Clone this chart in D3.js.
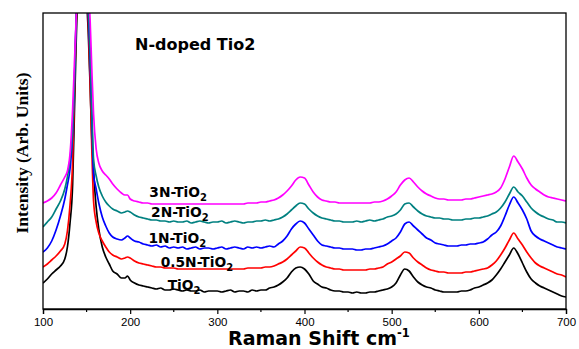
<!DOCTYPE html>
<html>
<head>
<meta charset="utf-8">
<script src="https://cdn.jsdelivr.net/npm/d3@7"></script>
<style>
body { margin: 0; background: #fff; }
svg { display: block; }
</style>
</head>
<body>
<svg id="chart" width="579" height="349"></svg>
<script>

// raman shift (cm-1), shared by every spectrum
var shift = [
	100, 105, 110, 115, 120, 125,
	128, 131, 134, 136, 138, 140, 142, 144, 146, 148, 150, 152, 154, 156, 158, 161, 164, 168, 172, 176, 180,
	185, 190, 194, 197,
	200, 205, 210, 215, 220, 225, 230, 235, 240, 245,
	250, 255, 260, 265, 270, 275, 280, 285, 290, 295,
	300, 305, 310, 315, 320, 325, 330, 335, 340, 345,
	350, 355, 360, 365, 370, 375, 380, 385, 390, 395,
	400, 405, 410, 415, 420, 425, 430, 435, 440, 445,
	450, 455, 460, 465, 470, 475, 480, 485, 490, 495,
	500, 505, 510, 515, 520, 525, 530, 535, 540, 545,
	550, 555, 560, 565, 570, 575, 580, 585, 590, 595,
	600, 605, 610, 615, 620, 625, 630, 635, 640, 645,
	650, 655, 660, 665, 670, 675, 680, 685, 690, 695,
	700
];

// intensities (arb. units)
var tio2 = [
	26, 30, 35, 39, 43, 50,
	62, 86, 125, 195, 265, 330, 450, 620, 640, 430, 320, 275, 225, 170, 138, 102, 80, 62, 52, 45, 38,
	35, 31, 31, 33,
	29, 26, 24, 23, 22, 21, 20, 21, 19, 19,
	20, 19, 18, 19, 18, 18, 19, 17, 18, 18,
	18, 17, 18, 19, 17, 18, 18, 17, 19, 18,
	19, 19, 21, 22, 24, 27, 31, 37, 41, 42,
	40, 35, 28, 25, 22, 21, 19, 18, 18, 17,
	17, 16, 17, 16, 16, 17, 17, 18, 19, 20,
	22, 26, 34, 40, 38, 32, 27, 24, 22, 21,
	19, 18, 17, 17, 17, 17, 18, 18, 19, 21,
	22, 24, 26, 29, 34, 40, 47, 54, 61, 55,
	46, 37, 30, 26, 23, 21, 19, 17, 15, 13,
	12
];

var n05 = [
	42, 45, 49, 53, 58, 65,
	78, 104, 148, 215, 285, 350, 470, 620, 640, 470, 340, 285, 230, 160, 108, 87, 76, 68, 62, 57, 54,
	52, 50, 51, 52,
	51, 48, 46, 45, 44, 43, 42, 42, 41, 41,
	41, 40, 40, 40, 40, 40, 40, 40, 40, 40,
	40, 40, 40, 40, 40, 40, 40, 41, 41, 41,
	41, 42, 42, 43, 45, 47, 50, 54, 58, 62,
	61, 56, 51, 47, 44, 42, 41, 40, 40, 39,
	39, 39, 39, 39, 39, 40, 40, 41, 42, 45,
	47, 50, 53, 57, 56, 51, 47, 44, 41, 39,
	38, 37, 37, 36, 36, 36, 36, 37, 37, 38,
	39, 40, 41, 44, 48, 54, 61, 69, 76, 70,
	64, 57, 51, 46, 43, 41, 39, 37, 35, 34,
	32
];

var n1 = [
	57, 61, 68, 79, 93, 110,
	124, 140, 175, 225, 290, 350, 470, 620, 640, 480, 345, 295, 250, 190, 135, 120, 106, 92, 83, 76, 72,
	70, 69, 71, 73,
	71, 68, 67, 65, 64, 63, 64, 62, 63, 61,
	62, 61, 62, 60, 61, 62, 60, 61, 61, 60,
	61, 62, 60, 61, 62, 61, 60, 62, 61, 62,
	61, 62, 63, 62, 65, 68, 73, 80, 85, 88,
	86, 80, 74, 68, 64, 63, 62, 61, 61, 60,
	60, 60, 59, 59, 60, 60, 61, 62, 63, 65,
	68, 71, 77, 85, 87, 83, 79, 75, 71, 69,
	66, 65, 64, 63, 63, 63, 64, 64, 65, 65,
	66, 67, 70, 74, 77, 83, 93, 104, 112, 106,
	99, 90, 78, 73, 70, 68, 66, 64, 62, 61,
	60
];

var n2 = [
	82, 87, 92, 100, 108, 120,
	132, 150, 180, 225, 290, 350, 470, 620, 640, 490, 360, 305, 260, 200, 150, 133, 122, 113, 107, 103, 100,
	98, 96, 97, 98,
	97, 94, 92, 91, 90, 89, 89, 88, 88, 87,
	88, 87, 87, 88, 86, 87, 88, 87, 86, 87,
	87, 88, 86, 87, 88, 87, 86, 87, 87, 88,
	88, 89, 88, 89, 90, 92, 95, 99, 103, 106,
	105, 100, 96, 93, 91, 90, 89, 88, 88, 87,
	87, 87, 88, 87, 88, 89, 88, 89, 90, 92,
	93, 95, 99, 105, 106, 102, 98, 95, 93, 92,
	91, 91, 90, 90, 89, 89, 89, 90, 90, 91,
	91, 92, 93, 95, 97, 101, 107, 115, 122, 117,
	113, 107, 101, 97, 94, 92, 90, 89, 87, 87,
	86
];

var n3 = [
	106, 108, 111, 116, 124, 132,
	138, 155, 200, 245, 290, 355, 470, 620, 640, 500, 380, 320, 290, 240, 195, 160, 146, 138, 134, 130, 125,
	120, 116, 114, 114,
	110, 108, 107, 106, 106, 105, 105, 105, 105, 105,
	105, 105, 105, 105, 105, 105, 105, 105, 105, 105,
	105, 105, 105, 105, 105, 105, 105, 106, 106, 106,
	107, 107, 108, 109, 111, 114, 118, 123, 129, 132,
	131, 124, 117, 112, 109, 108, 107, 107, 106, 106,
	106, 106, 106, 106, 106, 106, 107, 107, 108, 110,
	113, 117, 124, 129, 131, 127, 122, 118, 115, 113,
	111, 110, 110, 109, 109, 109, 109, 110, 110, 111,
	112, 113, 114, 115, 117, 121, 130, 142, 153, 147,
	140, 131, 124, 120, 117, 114, 112, 111, 110, 109,
	108
];

var seriesNames  = ["TiO2", "0.5N-TiO2", "1N-TiO2", "2N-TiO2", "3N-TiO2"];
var seriesColors = ["#000000", "#ff0000", "#0000ff", "#008080", "#ff00ff"];
var seriesData   = [tio2, n05, n1, n2, n3];

// where each curve label sits (shift, intensity of its baseline)
var labelShift = [243, 235, 221, 224, 222];
var labelLevel = [19, 42, 66, 92, 112];

var xTicks = [100, 200, 300, 400, 500, 600, 700];
var xMinor = [150, 250, 350, 450, 550, 650];


/*
 *	CHART
 */
var plot = { left: 43, right: 566, top: 13, bottom: 309 };

var svg = d3.select("#chart");

var xScale = d3.scaleLinear().domain([100, 700]).range([plot.left, plot.right]);
var yScale = d3.scaleLinear().domain([0, 296]).range([plot.bottom, plot.top]);

svg.append("defs").append("clipPath")
	.attr("id", "clip")
	.append("rect")
		.attr("x", plot.left)
		.attr("y", plot.top)
		.attr("width", plot.right - plot.left)
		.attr("height", plot.bottom - plot.top);

var line = d3.line()
	.x(function(d, i){ return xScale(shift[i]) })
	.y(function(d){ return yScale(d) })
	.curve(d3.curveMonotoneX);

svg.append("g")
	.attr("clip-path", "url(#clip)")
	.selectAll("path")
	.data(seriesData).enter()
	.append("path")
		.attr("d", line)
		.attr("fill", "none")
		.attr("stroke", function(d, i){ return seriesColors[i] })
		.attr("stroke-width", 1.7)
		.attr("stroke-linejoin", "round");

// frame
svg.append("rect")
	.attr("x", plot.left)
	.attr("y", plot.top)
	.attr("width", plot.right - plot.left)
	.attr("height", plot.bottom - plot.top)
	.attr("fill", "none")
	.attr("stroke", "#000")
	.attr("stroke-width", 1.3);

// x axis
var xAxis = d3.axisBottom(xScale).tickValues(xTicks).tickSize(5).tickPadding(4)
	.tickFormat(d3.format("d"));
var gx = svg.append("g")
	.attr("transform", "translate(0," + plot.bottom + ")")
	.call(xAxis);
gx.select(".domain").attr("stroke-width", 1.3);
gx.selectAll(".tick line").attr("stroke-width", 1.2);
gx.selectAll(".tick text")
	.style("font-family", "Liberation Sans, Arial, sans-serif")
	.style("font-size", "11.5px")
	.attr("fill", "#000");

svg.append("g")
	.selectAll("line")
	.data(xMinor).enter()
	.append("line")
		.attr("x1", function(d){ return xScale(d) })
		.attr("x2", function(d){ return xScale(d) })
		.attr("y1", plot.bottom)
		.attr("y2", plot.bottom + 3)
		.attr("stroke", "#000")
		.attr("stroke-width", 1.2);

// axis titles
var xt = svg.append("text")
	.attr("x", 228)
	.attr("y", 345)
	.style("font-family", "DejaVu Sans, Verdana, sans-serif")
	.style("font-weight", "bold")
	.style("font-size", "19px")
	.text("Raman Shift cm");
xt.append("tspan")
	.attr("dy", -8)
	.style("font-size", "11.5px")
	.text("-1");

svg.append("text")
	.attr("transform", "translate(28,153) rotate(-90)")
	.attr("text-anchor", "middle")
	.style("font-family", "Liberation Serif, Times New Roman, serif")
	.style("font-weight", "bold")
	.style("font-size", "17.5px")
	.text("Intensity (Arb. Units)");

// title
svg.append("text")
	.attr("x", 135)
	.attr("y", 50)
	.style("font-family", "DejaVu Sans, Verdana, sans-serif")
	.style("font-weight", "bold")
	.style("font-size", "16px")
	.text("N-doped Tio2");

// curve labels
var labels = svg.append("g")
	.style("font-family", "DejaVu Sans, Verdana, sans-serif")
	.style("font-weight", "bold")
	.style("font-size", "13.8px");

seriesNames.forEach(function(name, i){
	var t = labels.append("text")
		.attr("x", xScale(labelShift[i]))
		.attr("y", yScale(labelLevel[i]));
	t.append("tspan").text(name.slice(0, -1));
	t.append("tspan").attr("dy", 4).style("font-size", "10px").text("2");
});

</script>
</body>
</html>
